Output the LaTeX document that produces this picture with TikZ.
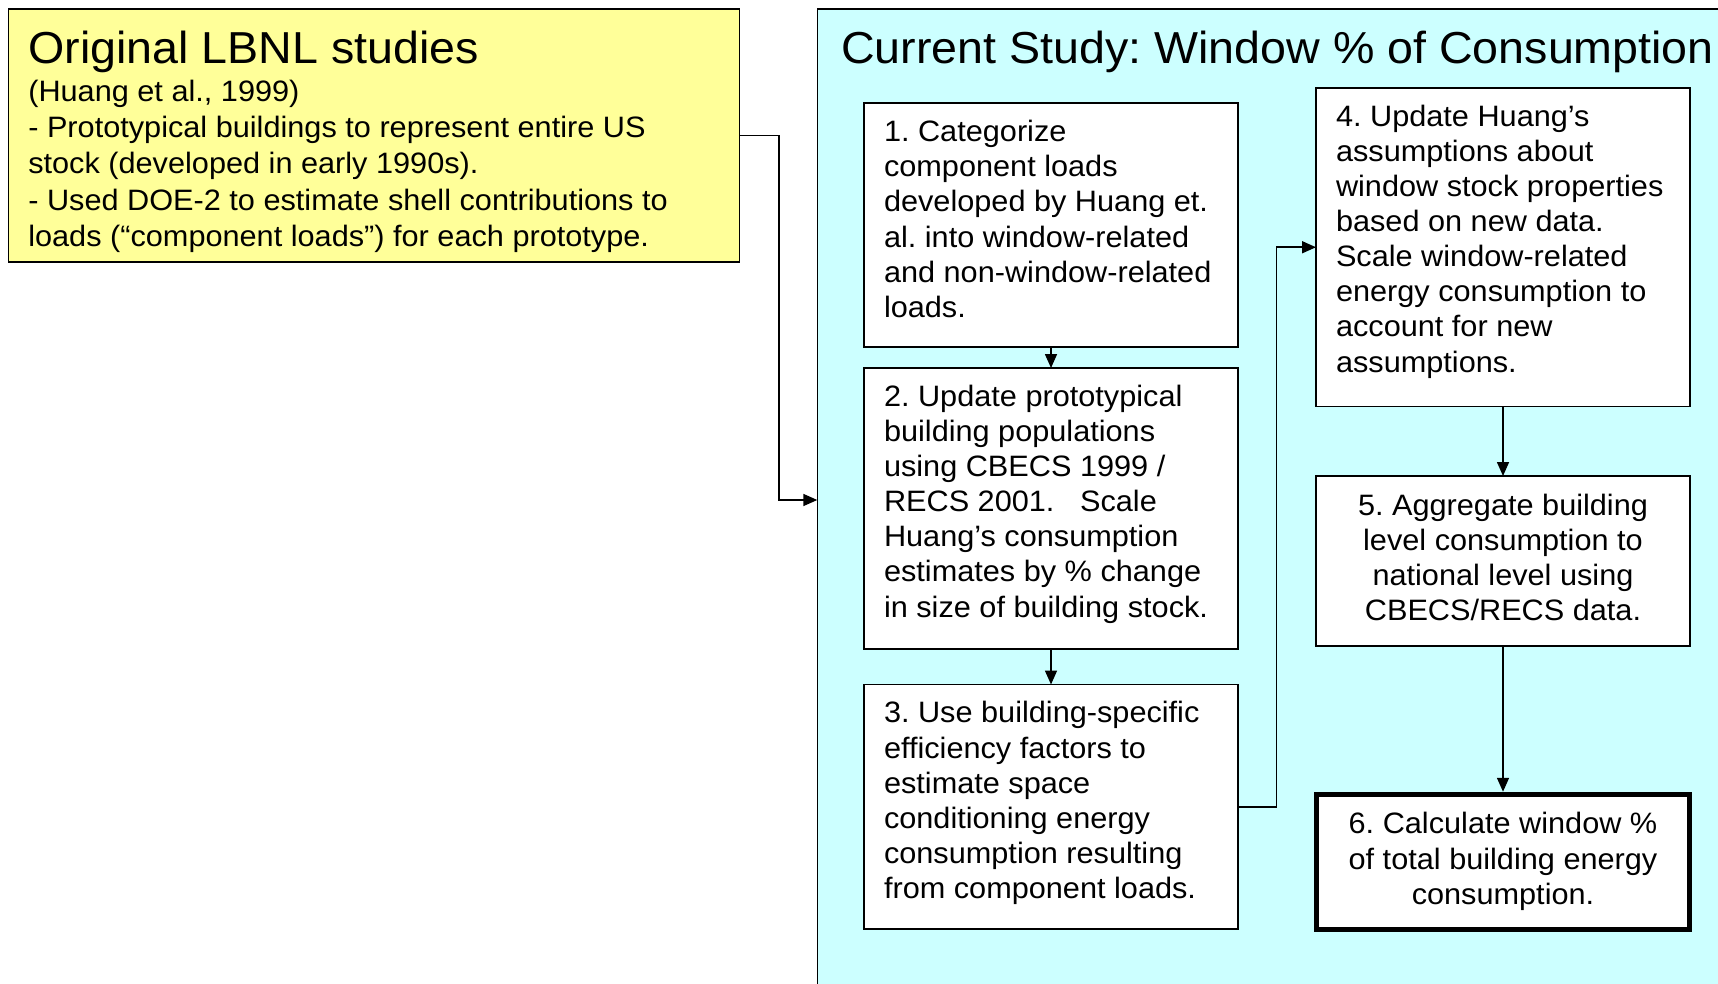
\documentclass[tikz,border=0pt]{standalone}
\usepackage{fontspec}
\setmainfont{Liberation Sans}[FakeStretch=1.04]
\usetikzlibrary{arrows.meta}
\definecolor{ylw}{HTML}{FFFF99}
\definecolor{cyn}{HTML}{CCFFFF}
\frenchspacing
\newcommand\topbox[3]{\parbox[c][#2][t]{#1}{\raggedright\rule{0pt}{38.4pt}#3}}
\newcommand\midbox[2]{\parbox{#1}{\centering\strut #2\strut}}
\begin{document}
\begin{tikzpicture}[x=1pt,y=-1pt,
  bodyfont/.style={font=\fontsize{29.5}{35.1}\selectfont},
  titlefont/.style={font=\fontsize{44.8}{50}\selectfont},
  wbox/.style={draw=black, fill=white, line width=1.8pt, inner xsep=20pt, inner ysep=0pt, outer sep=0pt, anchor=north west, bodyfont},
  cbox/.style={wbox, anchor=center, inner xsep=0pt, minimum width=374pt},
  panel/.style={draw=black, line width=1.6pt, anchor=north west, inner sep=0pt, outer sep=0pt},
  conn/.style={line width=1.6pt, -{Triangle[length=14pt,width=12pt]}},
 ]
\useasboundingbox (0,0) rectangle (1718,984);
\fill[white] (0,0) rectangle (1718,984);
\clip (0,0) rectangle (1718,984);

% panels
\node[panel, fill=ylw, inner xsep=20pt] (yb) at (8.3,9.3)
  {\parbox[c][252.7pt][t]{691pt}{\raggedright\rule{0pt}{54pt}{\fontsize{44.8}{50}\selectfont Original LBNL studies\par}\vspace{2pt}\fontsize{29.5}{36.2}\selectfont(Huang et al., 1999)\\- Prototypical buildings to represent entire US\\stock (developed in early 1990s).\\- Used DOE-2 to estimate shell contributions to\\loads (“component loads”) for each prototype.}};

\node[panel, fill=cyn, minimum width=950pt, minimum height=981.4pt] (cy) at (817.3,9.3) {};
\node[titlefont, anchor=base west, inner sep=0pt] (ct) at (841,63.3) {Current Study: Window \% of Consumption};

% steps
\node[wbox] (b1) at (864,103.3) {\topbox{334pt}{244pt}{1. Categorize\\component loads\\developed by Huang et.\\al. into window-related\\and non-window-related\\loads.}};
\node[wbox] (b2) at (864,368) {\topbox{334pt}{280.7pt}{2. Update prototypical\\building populations\\using CBECS 1999 /\\RECS 2001.\ \ \ Scale\\Huang’s consumption\\estimates by \% change\\in size of building stock.}};
\node[wbox] (b3) at (864,684.5) {\topbox{334pt}{244.5pt}{3. Use building-specific\\efficiency factors to\\estimate space\\conditioning energy\\consumption resulting\\from component loads.}};
\node[wbox] (b4) at (1316,88) {\topbox{334pt}{318.5pt}{4. Update Huang’s\\assumptions about\\window stock properties\\based on new data.\\Scale window-related\\energy consumption to\\account for new\\assumptions.}};
\node[cbox, minimum height=170pt] (b5) at (1503,561) {\midbox{334pt}{5. Aggregate building\\level consumption to\\national level using\\CBECS/RECS data.}};
\node[cbox, line width=5.5pt, outer sep=2.75pt, minimum width=373pt, minimum height=135pt] (b6) at (1503,862) {\midbox{334pt}{6. Calculate window \%\\of total building energy\\consumption.}};

% connectors
\coordinate (j1) at (778.7,136);
\coordinate (j2) at (1276.5,806);
\draw[conn] (yb.east) -- (yb.east -| j1) |- (cy.west);
\draw[conn] (b3.east) -- (b3.east -| j2) |- (b4.west);
\draw[conn] (b1.south) -- (b2.north);
\draw[conn] (b2.south) -- (b3.north);
\draw[conn] (b4.south) -- (b5.north);
\draw[conn] (b5.south) -- (b6.north);
\end{tikzpicture}
\end{document}
